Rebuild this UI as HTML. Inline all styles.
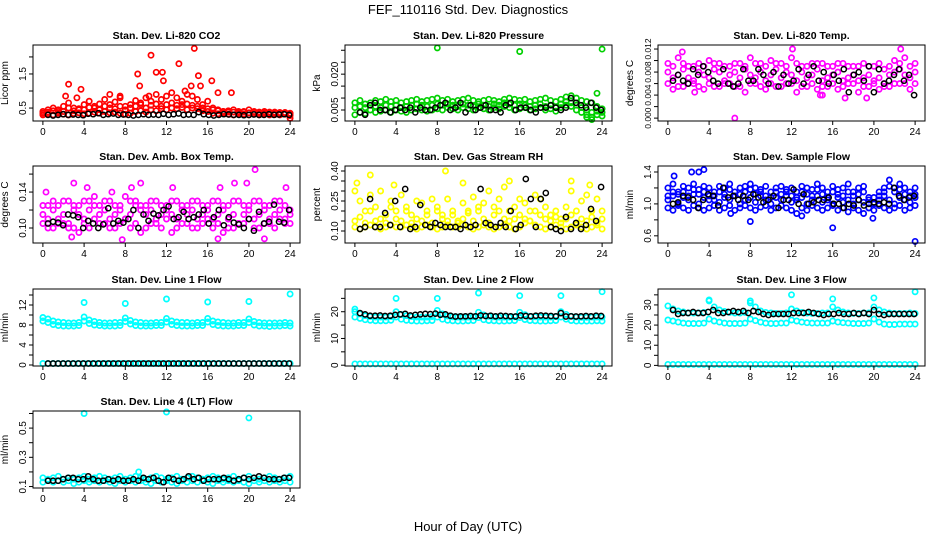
<!DOCTYPE html>
<html><head><meta charset="utf-8"><style>
html,body{margin:0;padding:0;background:#fff;}
svg{display:block;font-family:"Liberation Sans",Arial,sans-serif;}
</style></head><body>
<svg id="chart" width="936" height="540" viewBox="0 0 936 540" xmlns="http://www.w3.org/2000/svg">
<rect x="0" y="0" width="936" height="540" fill="#fff"/>
<text x="468" y="14" text-anchor="middle" font-size="13">FEF_110116  Std. Dev. Diagnostics</text>
<text x="468" y="531" text-anchor="middle" font-size="13">Hour of Day (UTC)</text>
</svg>
<script>
// ---- data ----
const xTicks = [0,4,8,12,16,20,24];
const co2Low = [0.3,0.33,0.3,0.35,0.32,0.3,0.34,0.36,0.33,0.35,0.38,0.35,0.4,0.36,0.38,0.35,0.32,0.35,0.4,0.42,0.38,0.45,0.42,0.48,0.45,0.5,0.48,0.52,0.45,0.5,0.48,0.42,0.4,0.35,0.33,0.35,0.32,0.3,0.34,0.32,0.3,0.33,0.3,0.32,0.3,0.31,0.3,0.32,0.28];
const co2Mid = [0.4,0.38,0.42,0.45,0.4,0.5,0.42,0.48,0.45,0.52,0.5,0.45,0.55,0.5,0.48,0.55,0.45,0.5,0.55,0.6,0.5,0.58,0.62,0.55,0.6,0.65,0.58,0.6,0.62,0.58,0.55,0.5,0.48,0.45,0.42,0.4,0.42,0.38,0.4,0.38,0.36,0.4,0.38,0.36,0.38,0.35,0.37,0.36,0.35];
const co2High = [0.35,0.45,0.5,0.4,0.55,0.65,0.5,0.45,0.6,0.7,0.55,0.62,0.75,0.6,0.68,0.8,0.55,0.6,0.72,0.65,0.8,0.7,0.9,0.75,0.85,0.95,0.8,0.7,0.9,0.85,0.75,0.6,0.7,0.5,0.45,0.4,0.38,0.45,0.36,0.4,0.45,0.38,0.35,0.4,0.36,0.38,0.35,0.37,0.33];
const co2Out = [[2.2,0.85],[2.5,1.2],[3.3,0.8],[3.7,1.05],[6.5,0.9],[7.5,0.85],[9.2,1.5],[9.4,1.15],[10.3,0.85],[10.5,2.05],[11,1.55],[11.6,1.55],[11.7,1.3],[13.2,1.8],[13.8,1.0],[14.4,1.15],[14.7,2.25],[15.1,1.45],[15.3,1.15],[16.4,1.3],[17,0.95],[18.3,0.95],[24,0.2]];
const co2Black = [0.3,0.28,0.3,0.32,0.3,0.31,0.3,0.29,0.33,0.32,0.35,0.3,0.32,0.34,0.3,0.31,0.3,0.28,0.3,0.32,0.3,0.31,0.3,0.33,0.3,0.32,0.34,0.3,0.31,0.3,0.38,0.32,0.3,0.28,0.3,0.32,0.31,0.3,0.3,0.29,0.3,0.31,0.3,0.3,0.32,0.3,0.31,0.32,0.3];

const presLow = [0.003,0.004,0.0035,0.005,0.004,0.0045,0.005,0.004,0.005,0.0045,0.004,0.005,0.0055,0.005,0.0045,0.005,0.0055,0.005,0.006,0.0055,0.005,0.006,0.0055,0.005,0.006,0.0055,0.005,0.006,0.0055,0.0065,0.006,0.005,0.0055,0.006,0.005,0.0055,0.006,0.005,0.0055,0.0045,0.006,0.007,0.0065,0.005,0.004,0.003,0.002,0.003,0.0025];
const presMid = [0.006,0.0065,0.006,0.007,0.0065,0.006,0.007,0.0065,0.007,0.006,0.0065,0.007,0.0075,0.007,0.0065,0.007,0.0075,0.007,0.0075,0.007,0.0065,0.0075,0.007,0.0065,0.0075,0.007,0.0065,0.0075,0.007,0.008,0.0075,0.007,0.0075,0.007,0.0065,0.007,0.0075,0.0065,0.007,0.006,0.0075,0.0085,0.008,0.007,0.006,0.005,0.004,0.0045,0.004];
const presHigh = [0.008,0.009,0.0075,0.008,0.009,0.0085,0.0095,0.0085,0.009,0.008,0.0085,0.009,0.0095,0.0085,0.009,0.0095,0.010,0.009,0.0095,0.0085,0.009,0.0095,0.010,0.009,0.0085,0.009,0.0095,0.009,0.0085,0.0095,0.010,0.0095,0.009,0.0095,0.0085,0.009,0.0095,0.010,0.009,0.0085,0.0095,0.0105,0.011,0.010,0.009,0.0085,0.008,0.0065,0.0055];
const presOut = [[8,0.031],[16,0.0295],[24,0.0305],[23.5,0.012],[22.5,0.002],[23,0.001]];
const presBlack = [0.004,0.003,0.007,0.008,0.005,0.005,0.004,0.005,0.006,0.005,0.006,0.004,0.006,0.005,0.005,0.006,0.007,0.008,0.005,0.006,0.008,0.004,0.007,0.005,0.006,0.007,0.005,0.005,0.004,0.007,0.008,0.005,0.006,0.006,0.005,0.004,0.006,0.006,0.007,0.006,0.005,0.006,0.010,0.008,0.007,0.006,0.008,0.006,0.005];

const tempA = [0.008,0.007,0.0075,0.0085,0.007,0.0065,0.008,0.0075,0.007,0.0085,0.008,0.0065,0.0075,0.008,0.007,0.0085,0.0075,0.007,0.008,0.0065,0.0075,0.0085,0.007,0.008,0.0075,0.0065,0.008,0.007,0.0075,0.0085,0.0065,0.007,0.0075,0.008,0.0065,0.007,0.0075,0.0065,0.007,0.0075,0.0065,0.007,0.006,0.0075,0.008,0.0085,0.0075,0.007,0.008];
const tempB = [0.0095,0.005,0.0105,0.0055,0.009,0.006,0.0095,0.005,0.01,0.0055,0.0095,0.006,0.009,0.0055,0.0095,0.0045,0.0105,0.006,0.0095,0.005,0.01,0.0055,0.0095,0.006,0.0105,0.0045,0.009,0.0055,0.0095,0.005,0.0095,0.0055,0.009,0.005,0.0095,0.006,0.009,0.0045,0.0095,0.0055,0.009,0.005,0.0085,0.0055,0.01,0.006,0.0105,0.005,0.0095];
const tempC = [0.006,0.009,0.0055,0.0095,0.006,0.009,0.0055,0.009,0.006,0.0095,0.0055,0.009,0.006,0.0095,0.0055,0.009,0.006,0.0095,0.0055,0.009,0.006,0.0095,0.0055,0.009,0.006,0.0095,0.0055,0.009,0.006,0.0095,0.0055,0.009,0.006,0.0095,0.0055,0.009,0.006,0.009,0.0055,0.009,0.006,0.0095,0.0055,0.009,0.006,0.0095,0.006,0.009,0.006];
const tempOut = [[6.5,0],[17.2,0.0035],[19.3,0.0035],[14.8,0.004],[15,0.004],[2.6,0.0045],[1.4,0.0115],[12.1,0.012],[22.6,0.012]];
const tempBlack = [0.0065,0.0075,0.0065,0.006,0.0085,0.0075,0.009,0.008,0.0065,0.006,0.0085,0.006,0.0055,0.006,0.0085,0.0065,0.0065,0.0085,0.0075,0.006,0.008,0.0055,0.0075,0.006,0.0065,0.0085,0.006,0.0075,0.009,0.0065,0.008,0.006,0.0075,0.0065,0.0085,0.0045,0.0075,0.008,0.0065,0.009,0.0045,0.0085,0.006,0.0065,0.0075,0.0085,0.0065,0.0075,0.004];

const ambA = [0.115,0.11,0.12,0.11,0.115,0.105,0.12,0.115,0.11,0.12,0.125,0.115,0.12,0.11,0.115,0.12,0.11,0.115,0.125,0.12,0.115,0.12,0.11,0.115,0.12,0.115,0.11,0.12,0.115,0.12,0.11,0.115,0.12,0.11,0.115,0.12,0.11,0.115,0.105,0.115,0.12,0.11,0.115,0.12,0.11,0.115,0.12,0.11,0.115];
const ambB = [0.125,0.1,0.13,0.105,0.13,0.1,0.125,0.095,0.13,0.1,0.135,0.105,0.13,0.1,0.125,0.105,0.135,0.1,0.13,0.095,0.125,0.105,0.13,0.1,0.125,0.095,0.13,0.105,0.125,0.1,0.13,0.105,0.125,0.1,0.13,0.095,0.125,0.1,0.13,0.105,0.125,0.1,0.13,0.105,0.125,0.1,0.13,0.105,0.12];
const ambC = [0.105,0.125,0.1,0.125,0.105,0.13,0.1,0.125,0.105,0.13,0.11,0.125,0.105,0.13,0.1,0.125,0.11,0.13,0.105,0.125,0.1,0.13,0.105,0.125,0.11,0.13,0.1,0.125,0.105,0.13,0.1,0.125,0.11,0.13,0.105,0.125,0.1,0.13,0.105,0.125,0.11,0.13,0.1,0.125,0.105,0.13,0.11,0.125,0.105];
const ambOut = [[20.6,0.165],[3,0.15],[9.5,0.15],[18.6,0.15],[19.8,0.15],[17,0.088],[2.8,0.09],[21.5,0.088],[7.7,0.087],[0.3,0.14],[4.3,0.145],[12.6,0.145],[17.2,0.145],[23.6,0.145],[6.7,0.14],[8.6,0.145]];
const ambBlack = [0.105,0.107,0.106,0.103,0.115,0.114,0.112,0.1,0.108,0.105,0.1,0.104,0.122,0.105,0.108,0.106,0.11,0.12,0.1,0.115,0.108,0.116,0.114,0.12,0.124,0.11,0.112,0.118,0.11,0.112,0.115,0.12,0.105,0.112,0.12,0.103,0.112,0.106,0.104,0.1,0.11,0.097,0.118,0.105,0.107,0.126,0.107,0.106,0.12];

const rhA = [0.12,0.11,0.12,0.13,0.12,0.11,0.12,0.13,0.12,0.12,0.13,0.12,0.11,0.12,0.13,0.12,0.11,0.12,0.13,0.12,0.12,0.13,0.12,0.11,0.12,0.13,0.12,0.11,0.12,0.13,0.12,0.11,0.12,0.14,0.15,0.13,0.12,0.11,0.12,0.13,0.12,0.11,0.12,0.13,0.12,0.11,0.12,0.13,0.11];
const rhB = [0.3,0.25,0.2,0.28,0.22,0.3,0.18,0.25,0.2,0.28,0.22,0.18,0.25,0.24,0.2,0.26,0.22,0.18,0.26,0.2,0.15,0.24,0.2,0.27,0.2,0.24,0.3,0.22,0.26,0.32,0.2,0.16,0.26,0.24,0.2,0.28,0.26,0.22,0.18,0.2,0.16,0.22,0.3,0.2,0.25,0.28,0.2,0.26,0.2];
const rhC = [0.15,0.17,0.14,0.2,0.15,0.16,0.14,0.22,0.16,0.15,0.2,0.14,0.16,0.15,0.18,0.14,0.2,0.16,0.15,0.18,0.14,0.16,0.19,0.15,0.22,0.16,0.14,0.18,0.2,0.16,0.15,0.22,0.18,0.16,0.15,0.2,0.18,0.16,0.15,0.17,0.14,0.16,0.18,0.14,0.16,0.15,0.17,0.14,0.16];
const rhOut = [[1.5,0.38],[8.8,0.4],[0.2,0.34],[3.8,0.33],[10.5,0.34],[15,0.35],[21,0.35],[22.8,0.33]];
const rhBlack = [0.11,0.12,0.26,0.12,0.12,0.19,0.13,0.25,0.12,0.31,0.11,0.12,0.23,0.13,0.12,0.14,0.13,0.12,0.12,0.12,0.11,0.13,0.12,0.13,0.31,0.14,0.13,0.12,0.14,0.12,0.2,0.11,0.13,0.36,0.26,0.12,0.26,0.29,0.12,0.11,0.1,0.17,0.11,0.14,0.11,0.13,0.21,0.15,0.32];

const sfA = [1.05,1.1,1.0,1.08,1.05,1.12,1.0,1.08,1.05,1.1,1.02,1.08,1.05,1.1,1.0,1.05,1.08,1.02,1.1,1.05,1.0,1.08,1.05,1.1,1.02,1.05,1.08,1.0,1.05,1.1,1.02,1.05,1.0,1.08,1.02,1.05,1.0,1.05,1.02,1.08,1.0,1.05,1.1,1.05,1.0,1.08,1.05,1.02,1.08];
const sfB = [1.2,1.25,1.15,1.22,1.2,1.25,1.18,1.22,1.2,1.15,1.22,1.2,1.25,1.15,1.2,1.22,1.25,1.2,1.18,1.22,1.15,1.2,1.22,1.18,1.2,1.15,1.22,1.2,1.18,1.25,1.2,1.15,1.22,1.18,1.2,1.25,1.15,1.2,1.22,0.95,1.0,1.15,1.2,1.3,1.2,1.25,1.2,1.15,1.2];
const sfC = [0.95,0.92,0.98,0.95,0.92,0.98,0.95,0.92,0.95,0.98,0.92,0.95,0.98,0.92,0.95,0.98,0.95,0.92,0.96,0.98,0.92,0.95,0.98,0.95,0.92,0.88,0.95,0.92,0.98,0.95,0.92,0.95,0.98,0.92,0.95,0.9,0.95,0.92,0.88,0.95,0.92,0.98,0.95,0.92,0.95,0.98,0.92,0.95,0.98];
const sfD = [1.1,1.15,1.12,1.15,1.1,1.18,1.12,1.15,1.1,1.05,1.15,1.12,1.18,1.1,1.12,1.15,1.18,1.12,1.15,1.1,1.08,1.15,1.12,1.15,1.1,1.08,1.15,1.12,1.1,1.18,1.12,1.08,1.15,1.12,1.1,1.15,1.1,1.12,1.15,1.05,1.08,1.1,1.15,1.22,1.15,1.18,1.12,1.1,1.12];
const sfOut = [[16,0.7],[24,0.53],[8,0.78],[19.9,0.82],[3.5,1.43],[3,1.4],[13,0.85],[2.3,1.4],[0.6,1.35],[6.1,0.88]];
const sfBlack = [1.0,1.02,1.1,1.08,1.05,0.95,1.05,1.12,1.1,0.98,1.2,1.08,1.1,1.05,1.1,1.05,1.12,1.08,1.02,1.05,1.1,0.95,1.05,1.05,1.18,1.0,1.12,1.0,1.02,1.05,1.05,1.08,1.0,1.0,0.95,1.0,0.98,1.05,0.98,1.0,1.02,1.0,1.02,1.0,1.2,1.1,1.05,1.08,1.1];

const l1A = [9.5,9.2,8.8,8.6,8.5,8.4,8.4,8.5,9.6,9.0,8.7,8.5,8.4,8.4,8.5,8.5,9.4,8.9,8.6,8.5,8.4,8.4,8.5,8.5,9.3,8.8,8.6,8.5,8.5,8.4,8.5,8.5,9.3,8.8,8.6,8.5,8.4,8.4,8.5,8.5,9.2,8.7,8.5,8.4,8.4,8.4,8.4,8.5,8.4];
const l1B = [8.8,8.5,8.1,7.9,7.8,7.8,7.8,7.9,8.8,8.3,8.0,7.9,7.8,7.8,7.8,7.9,8.7,8.2,7.9,7.8,7.8,7.8,7.9,7.9,8.6,8.1,7.9,7.8,7.8,7.8,7.9,7.9,8.6,8.1,7.9,7.8,7.8,7.8,7.9,7.9,8.5,8.0,7.8,7.8,7.7,7.8,7.8,7.9,7.8];
const l1Zero = [0.3,0.3,0.3,0.3,0.3,0.3,0.3,0.3,0.3,0.3,0.3,0.3,0.3,0.3,0.3,0.3,0.3,0.3,0.3,0.3,0.3,0.3,0.3,0.3,0.3,0.3,0.3,0.3,0.3,0.3,0.3,0.3,0.3,0.3,0.3,0.3,0.3,0.3,0.3,0.3,0.3,0.3,0.3,0.3,0.3,0.3,0.3,0.3,0.3];
const l1Out = [[4,12.5],[8,12.3],[12,13.2],[16,12.6],[20,12.7],[24,14.2]];
const l1Black = [0.3,0.3,0.3,0.3,0.3,0.3,0.3,0.3,0.3,0.3,0.3,0.3,0.3,0.3,0.3,0.3,0.3,0.3,0.3,0.3,0.3,0.3,0.3,0.3,0.3,0.3,0.3,0.3,0.3,0.3,0.3,0.3,0.3,0.3,0.3,0.3,0.3,0.3,0.3,0.3,0.3,0.3,0.3,0.3,0.3,0.3,0.3,0.3,0.3];

const l2A = [20,19.2,18.5,18.2,18,18,18,18.2,20,19,18.5,18.2,18,18,18,18.2,20.5,19.2,18.4,18.1,18,18,18,18.1,19.8,18.8,18.3,18.1,18,18,18,18.1,19.8,18.9,18.3,18.1,18,18,18,18.2,20,19,18.3,18,17.9,17.9,18,18,18];
const l2B = [18,17.5,17,16.8,16.6,16.6,16.6,16.8,18,17.2,16.8,16.6,16.5,16.5,16.6,16.7,18,17.2,16.8,16.6,16.5,16.5,16.6,16.7,17.8,17,16.7,16.6,16.5,16.5,16.6,16.7,17.8,17.1,16.7,16.6,16.5,16.5,16.6,16.7,18,17.2,16.7,16.5,16.5,16.5,16.5,16.6,16.5];
const l2Zero = [0.5,0.5,0.5,0.5,0.5,0.5,0.5,0.5,0.5,0.5,0.5,0.5,0.5,0.5,0.5,0.5,0.5,0.5,0.5,0.5,0.5,0.5,0.5,0.5,0.5,0.5,0.5,0.5,0.5,0.5,0.5,0.5,0.5,0.5,0.5,0.5,0.5,0.5,0.5,0.5,0.5,0.5,0.5,0.5,0.5,0.5,0.5,0.5,0.5];
const l2Out = [[0,21],[4,25],[8,25],[12,27],[16,26],[20,26],[24,27.5]];
const l2Black = [19.5,19,18.5,18.5,18.6,18.4,18.5,18.8,19,19.2,18.6,18.8,19,19.2,19.1,19.3,18.9,19,18.5,18.2,18.3,18.3,18.4,18.3,18.6,18.4,18.5,18.3,18.5,18.4,18.3,18.2,18.6,18.4,18.3,18.5,18.6,18.5,18.4,18.3,19.5,18.2,18.3,18.2,18.3,18.4,18.3,18.5,18.4];

const l3A = [29.5,28,27,26.5,26,26,26,26.3,32,29,27.5,26.8,26.3,26,26,26.3,31,29,27,26.3,26,25.8,25.8,26,28,27,26.3,26,25.8,25.8,26,26,29,27.5,26.5,26,25.8,25.8,26,26,29,27.5,26.5,26,25.8,25.8,25.8,26,25.8];
const l3B = [22.5,22,21.5,21,20.8,20.8,20.8,21,23,22,21.5,21,20.8,20.8,20.8,21,23,22.2,21.5,21,20.8,20.8,21,21,22.5,22,21.5,21.2,21,21,21,21,22,21.5,21.2,21,20.8,20.8,20.8,21,23,21.5,20.5,20.3,20.3,20.5,20.5,20.5,20.5];
const l3Zero = [0.5,0.5,0.5,0.5,0.5,0.5,0.5,0.5,0.5,0.5,0.5,0.5,0.5,0.5,0.5,0.5,0.5,0.5,0.5,0.5,0.5,0.5,0.5,0.5,0.5,0.5,0.5,0.5,0.5,0.5,0.5,0.5,0.5,0.5,0.5,0.5,0.5,0.5,0.5,0.5,0.5,0.5,0.5,0.5,0.5,0.5,0.5,0.5,0.5];
const l3Out = [[4,32.5],[8,32],[12,35],[16,33],[20,33.5],[24,36.5]];
const l3Black = [27.5,25.5,26,26,26.5,26,26,26.5,27.5,26,26,26.5,27,26.5,27,26,27,26.5,25.5,25,25.5,25.5,25.5,25.5,26,26,26,26.5,26,25.5,25,25.5,25.5,26,25.5,25.5,26,25.5,26,25.5,27.5,25.5,25,25.5,25.5,25.5,25.5,25.5,25.5];

const l4A = [0.16,0.15,0.16,0.17,0.15,0.16,0.15,0.16,0.17,0.15,0.16,0.17,0.16,0.15,0.16,0.17,0.15,0.16,0.17,0.16,0.15,0.16,0.17,0.16,0.15,0.16,0.17,0.15,0.16,0.17,0.16,0.15,0.16,0.17,0.16,0.15,0.16,0.17,0.15,0.16,0.17,0.16,0.15,0.16,0.17,0.16,0.15,0.16,0.17];
const l4B = [0.13,0.14,0.13,0.14,0.13,0.14,0.12,0.13,0.14,0.13,0.14,0.13,0.14,0.13,0.12,0.14,0.13,0.14,0.13,0.14,0.13,0.12,0.14,0.13,0.14,0.13,0.12,0.14,0.13,0.14,0.13,0.14,0.13,0.12,0.14,0.13,0.14,0.13,0.14,0.13,0.12,0.14,0.13,0.14,0.13,0.14,0.13,0.14,0.13];
const l4Out = [[4,0.6],[12,0.61],[20,0.57],[9.3,0.2]];
const l4Black = [0.14,0.14,0.14,0.15,0.16,0.16,0.15,0.15,0.17,0.15,0.14,0.14,0.15,0.14,0.15,0.14,0.14,0.15,0.14,0.16,0.15,0.16,0.14,0.13,0.16,0.15,0.14,0.15,0.17,0.15,0.16,0.14,0.15,0.15,0.15,0.16,0.15,0.14,0.15,0.16,0.15,0.16,0.17,0.16,0.15,0.15,0.15,0.16,0.16];

// ---- layout ----
const SVGNS = "http://www.w3.org/2000/svg";
const svg = document.getElementById('chart');
const cols = [[33,300],[345,612],[658,925]];
const rows = [[45,121],[166,243],[289,366],[411,488]];
const panels = [
 {name:'co2',title:'Stan. Dev. Li-820 CO2',ylab:'Licor ppm',r:0,c:0,yl:[0.12,2.35],ticks:[0.5,1,1.5,2],labels:['0.5','','1.5',''],col:'#ff0000',series:[co2Low,co2Mid,co2High],out:co2Out,black:co2Black},
 {name:'pressure',title:'Stan. Dev. Li-820 Pressure',ylab:'kPa',r:0,c:1,yl:[0.0004,0.0322],ticks:[0.005,0.01,0.015,0.02,0.025,0.03],labels:['0.005','','','0.020','',''],col:'#00d000',series:[presLow,presMid,presHigh],out:presOut,black:presBlack},
 {name:'temp',title:'Stan. Dev. Li-820 Temp.',ylab:'degrees C',r:0,c:2,yl:[-0.0005,0.0127],ticks:[0,0.002,0.004,0.006,0.008,0.01,0.012],labels:['0.000','','0.004','','0.008','','0.012'],tickFont:8.5,col:'#ff00ff',series:[tempA,tempB,tempC],out:tempOut,black:tempBlack},
 {name:'amb-temp',title:'Stan. Dev. Amb. Box Temp.',ylab:'degrees C',r:1,c:0,yl:[0.0833,0.169],ticks:[0.1,0.12,0.14,0.16],labels:['0.10','','0.14',''],col:'#ff00ff',series:[ambA,ambB,ambC],out:ambOut,black:ambBlack},
 {name:'rh',title:'Stan. Dev. Gas Stream RH',ylab:'percent',r:1,c:1,yl:[0.04,0.425],ticks:[0.1,0.15,0.2,0.25,0.3,0.35,0.4],labels:['0.10','','','0.25','','','0.40'],col:'#ffff00',series:[rhA,rhB,rhC],out:rhOut,black:rhBlack},
 {name:'sample-flow',title:'Stan. Dev. Sample Flow',ylab:'ml/min',r:1,c:2,yl:[0.51,1.475],ticks:[0.6,0.8,1.0,1.2,1.4],labels:['0.6','','1.0','','1.4'],col:'#0000ff',series:[sfA,sfB,sfC,sfD],out:sfOut,black:sfBlack},
 {name:'line1',title:'Stan. Dev. Line 1 Flow',ylab:'ml/min',r:2,c:0,yl:[-0.2,15.2],ticks:[0,2,4,6,8,10,12,14],labels:['0','','4','','8','','12',''],col:'#00ffff',series:[l1A,l1B,l1Zero],out:l1Out,black:l1Black},
 {name:'line2',title:'Stan. Dev. Line 2 Flow',ylab:'ml/min',r:2,c:1,yl:[-0.3,28.5],ticks:[0,5,10,15,20,25],labels:['0','','10','','20',''],col:'#00ffff',series:[l2A,l2B,l2Zero],out:l2Out,black:l2Black},
 {name:'line3',title:'Stan. Dev. Line 3 Flow',ylab:'ml/min',r:2,c:2,yl:[-0.3,37.9],ticks:[0,5,10,15,20,25,30,35],labels:['0','','10','','20','','30',''],col:'#00ffff',series:[l3A,l3B,l3Zero],out:l3Out,black:l3Black},
 {name:'line4',title:'Stan. Dev. Line 4 (LT) Flow',ylab:'ml/min',r:3,c:0,yl:[0.09,0.617],ticks:[0.1,0.2,0.3,0.4,0.5,0.6],labels:['0.1','','0.3','','0.5',''],col:'#00ffff',series:[l4A,l4B],out:l4Out,black:l4Black}
];
function mk(tag, attrs, parent){
  const e = document.createElementNS(SVGNS, tag);
  for (const k in attrs) e.setAttribute(k, attrs[k]);
  (parent||svg).appendChild(e); return e;
}
panels.forEach(p=>{
  const [L,R] = cols[p.c], [T,B] = rows[p.r];
  const g = mk('g',{});
  
  
  const xs = h => L + (h+0.96)/25.92*(R-L);
  const ys = v => B - (v-p.yl[0])/(p.yl[1]-p.yl[0])*(B-T);
  const t = mk('text',{x:(L+R)/2,y:T-6,'text-anchor':'middle','font-size':'10.5','font-weight':'bold'},g);
  t.textContent = p.title;
  
  
  const pts = mk('g',{fill:'none'},g);
  
  
  const dot = (h,v,color,sw)=>{
    const c = mk('circle',{cx:xs(h).toFixed(1),cy:ys(v).toFixed(1),r:'2.6',stroke:color,'stroke-width':sw},pts);
    
    
  };
  p.series.forEach(s=>{ s.forEach((v,i)=>dot(i*24/(s.length-1), v, p.col, 1.7)); });
  p.out.forEach(o=>dot(o[0],o[1],p.col,1.7));
  p.black.forEach((v,i)=>dot(0.5+i*23.4/(p.black.length-1), v, '#000', 1.5));
  const b = mk('rect',{x:L,y:T,width:R-L,height:B-T,fill:'none',stroke:'#000','stroke-width':'1'},g);
  
  
  const xa = mk('g',{},g);
  
  
  mk('line',{x1:xs(xTicks[0]),x2:xs(xTicks[xTicks.length-1]),y1:B,y2:B,stroke:'#000'},xa);
  xTicks.forEach(h=>{
    mk('line',{x1:xs(h),x2:xs(h),y1:B,y2:B+4,stroke:'#000'},xa);
    const tl = mk('text',{x:xs(h),y:B+14,'text-anchor':'middle','font-size':'10'},xa);
    tl.textContent = h;
  });
  const ya = mk('g',{},g);
  
  
  mk('line',{x1:L,x2:L,y1:ys(p.ticks[0]),y2:ys(p.ticks[p.ticks.length-1]),stroke:'#000'},ya);
  const tf = p.tickFont || 10;
  p.ticks.forEach((v,i)=>{
    const y = ys(v);
    mk('line',{x1:L-4,x2:L,y1:y,y2:y,stroke:'#000'},ya);
    if (p.labels[i]) {
      const tl = mk('text',{x:L-7,y:y,'text-anchor':'middle','font-size':tf,transform:`rotate(-90 ${L-7} ${y})`},ya);
      tl.textContent = p.labels[i];
    }
  });
  const yl = mk('text',{x:L-25,y:(T+B)/2,'text-anchor':'middle','font-size':'10',transform:`rotate(-90 ${L-25} ${(T+B)/2})`},g);
  yl.textContent = p.ylab;
  
  
});
</script>
</body></html>
